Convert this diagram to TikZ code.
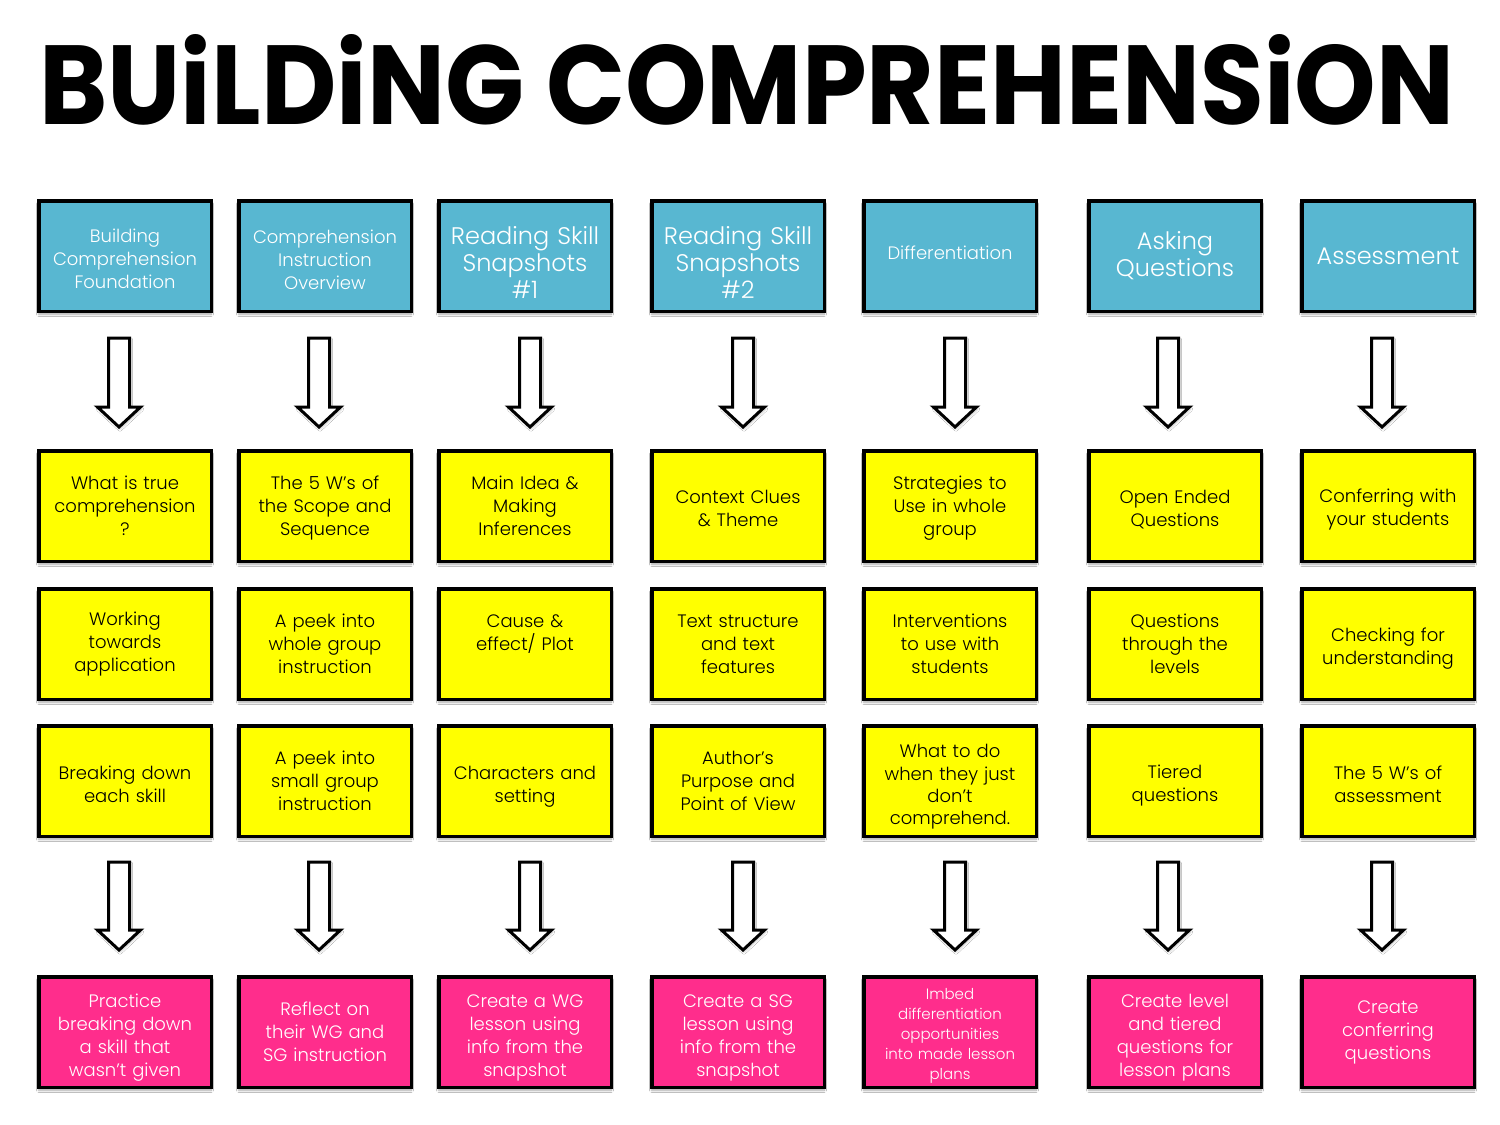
\documentclass[tikz,border=0pt]{standalone}
\usepackage{fontspec}
\setmainfont{Poppins}[UprightFont=* Light, BoldFont=* Bold]
\usetikzlibrary{shadows.blur}
\definecolor{hdrblue}{RGB}{88,183,209}
\definecolor{cardyellow}{RGB}{255,255,0}
\definecolor{cardpink}{RGB}{255,45,140}
% \up pushes text down (tall first line), \lo pushes text up (deep last line)
\newcommand{\up}[1]{\rule{0pt}{#1pt}}
\newcommand{\lo}[1]{\rule[-#1pt]{0pt}{#1pt}}
\newcommand{\blockarr}[2]{%
  \draw[blockarrow] ([xshift=-10.5pt]#1) -- ([xshift=-10.5pt,yshift=20pt]#2) -- ([xshift=-21.5pt,yshift=20pt]#2) -- (#2) -- ([xshift=21.5pt,yshift=20pt]#2) -- ([xshift=10.5pt,yshift=20pt]#2) -- ([xshift=10.5pt]#1) -- cycle;}
\begin{document}
\begin{tikzpicture}[x=1pt,y=-1pt,
  card/.style={draw=black, line width=3.5pt, minimum width=172.5pt, minimum height=110.5pt,
    inner sep=0pt, align=center, text width=166pt,
    blur shadow={shadow xshift=0pt, shadow yshift=-3pt, shadow blur steps=6, shadow opacity=35}},
  hdr/.style={card, fill=hdrblue, text=white, font=\fontsize{18}{23}\selectfont},
  hdrbig/.style={hdr, font=\fontsize{24}{27}\selectfont},
  ycard/.style={card, fill=cardyellow, text=black, font=\fontsize{18}{23}\selectfont},
  pcard/.style={card, fill=cardpink, text=white, font=\fontsize{18}{23}\selectfont},
  blockarrow/.style={draw=black, fill=white, line width=3pt, line join=miter,
    blur shadow={shadow xshift=1pt, shadow yshift=-2pt, shadow blur steps=4, shadow opacity=25}},
  title/.style={inner sep=0pt, font=\bfseries}]
\useasboundingbox (0,0) rectangle (1500,1125);
\fill[white] (0,0) rectangle (1500,1125);

\node[title] (title) at (747,80) {\resizebox{1415pt}{90pt}{BUiLDiNG COMPREHENSiON}};

% header row
\node[hdr] (h1) at (125,256) {\up{19.3}Building\\Comprehension\\Foundation};
\node[hdr] (h2) at (325,256) {\up{21.3}Comprehension\\Instruction\\Overview};
\node[hdrbig] (h3) at (525,256) {\up{31.8}Reading Skill\\Snapshots\\\#1};
\node[hdrbig] (h4) at (738,256) {\up{31.8}Reading Skill\\Snapshots\\\#2};
\node[hdr] (h5) at (950,256) {Differentiation\lo{6}};
\node[hdrbig] (h6) at (1175,256) {Asking\\Questions\lo{4}};
\node[hdrbig] (h7) at (1388,256) {Assessment};

% yellow row 1
\node[ycard] (a1) at (125,506) {What is true\\comprehension\\?};
\node[ycard] (a2) at (325,506) {\up{17.3}The 5 W's of\\the Scope and\\Sequence};
\node[ycard] (a3) at (525,506) {Main Idea \&\\Making\\Inferences};
\node[ycard] (a4) at (738,506) {\up{17.3}Context Clues\\\& Theme};
\node[ycard] (a5) at (950,506) {\up{17.3}Strategies to\\Use in whole\\group};
\node[ycard] (a6) at (1175,506) {\up{21.3}Open Ended\\Questions};
\node[ycard] (a7) at (1388,506) {\up{21.3}Conferring with\\your students};

% yellow row 2
\node[ycard] (b1) at (125,644) {Working\\towards\\application};
\node[ycard] (b2) at (325,644) {A peek into\\whole group\\instruction};
\node[ycard] (b3) at (525,644) {Cause \&\\effect/ Plot\\\phantom{x}};
\node[ycard] (b4) at (738,644) {Text structure\\and text\\features};
\node[ycard] (b5) at (950,644) {Interventions\\to use with\\students};
\node[ycard] (b6) at (1175,644) {Questions\\through the\\levels};
\node[ycard] (b7) at (1388,644) {\up{23.3}Checking for\\understanding};

% yellow row 3
\node[ycard] (c1) at (125,781) {\up{19.3}Breaking down\\each skill};
\node[ycard] (c2) at (325,781) {A peek into\\small group\\instruction};
\node[ycard] (c3) at (525,781) {\up{25.3}Characters and\\setting};
\node[ycard] (c4) at (738,781) {Author's\\Purpose and\\Point of View};
\node[ycard, font=\fontsize{18}{22.3}\selectfont] (c5) at (950,781) {\up{25.3}What to do\\when they just\\don't\\comprehend.};
\node[ycard] (c6) at (1175,781) {\up{23.3}Tiered\\questions};
\node[ycard] (c7) at (1388,781) {\up{19.3}The 5 W's of\\assessment};

% pink row
\node[pcard] (p1) at (125,1032) {\up{25.3}Practice\\breaking down\\a skill that\\wasn't given};
\node[pcard] (p2) at (325,1032) {Reflect on\\their WG and\\SG instruction};
\node[pcard] (p3) at (525,1032) {\up{25.3}Create a WG\\lesson using\\info from the\\snapshot};
\node[pcard] (p4) at (738,1032) {\up{25.3}Create a SG\\lesson using\\info from the\\snapshot};
\node[pcard, font=\fontsize{15}{20}\selectfont] (p5) at (950,1032) {\up{19.1}Imbed\\differentiation\\opportunities\\into made lesson\\plans};
\node[pcard] (p6) at (1175,1032) {\up{25.3}Create level\\and tiered\\questions for\\lesson plans};
\node[pcard] (p7) at (1388,1032) {Create\\conferring\\questions};

% arrow end points
\foreach \i/\x in {1/119,2/319,3/530,4/743,5/955,6/1168,7/1382}{
  \coordinate (t\i) at (\x,338);
  \coordinate (u\i) at (\x,427);
  \coordinate (v\i) at (\x,862);
  \coordinate (w\i) at (\x,950);
}
\foreach \i in {1,...,7}{
  \blockarr{t\i}{u\i}
  \blockarr{v\i}{w\i}
}
\end{tikzpicture}
\end{document}
